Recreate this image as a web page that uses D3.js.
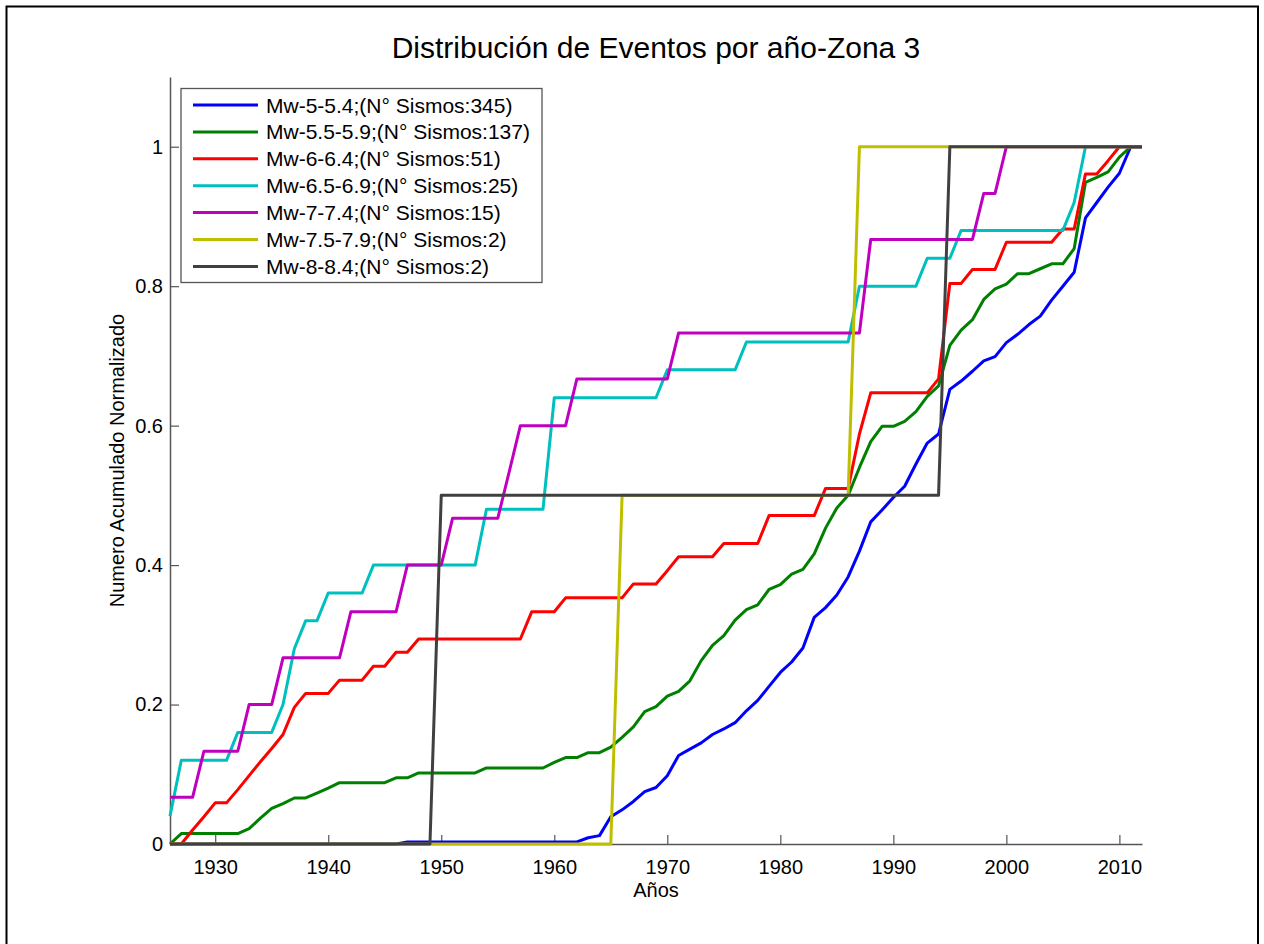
<!DOCTYPE html>
<html>
<head>
<meta charset="utf-8">
<script src="https://cdn.jsdelivr.net/npm/d3@7"></script>
<style>
html,body{margin:0;padding:0;background:#fff;}
svg{display:block;font-family:"Liberation Sans",Arial,Helvetica,sans-serif;}
</style>
</head>
<body>
<svg id="chart" width="1264" height="944"></svg>
<script>
const years = [
1926,1927,1928,1929,1930,1931,1932,1933,1934,1935,
1936,1937,1938,1939,1940,1941,1942,1943,1944,1945,
1946,1947,1948,1949,1950,1951,1952,1953,1954,1955,
1956,1957,1958,1959,1960,1961,1962,1963,1964,1965,
1966,1967,1968,1969,1970,1971,1972,1973,1974,1975,
1976,1977,1978,1979,1980,1981,1982,1983,1984,1985,
1986,1987,1988,1989,1990,1991,1992,1993,1994,1995,
1996,1997,1998,1999,2000,2001,2002,2003,2004,2005,
2006,2007,2008,2009,2010,2011,2012];

const mw50 = [
0,0,0,0,0,0,0,0,0,0,
0,0,0,0,0,0,0,0,0,0,
0,0.003,0.003,0.003,0.003,0.003,0.003,0.003,0.003,0.003,
0.003,0.003,0.003,0.003,0.003,0.003,0.003,0.009,0.012,0.039,
0.049,0.061,0.075,0.081,0.098,0.127,0.136,0.145,0.157,0.165,
0.174,0.191,0.206,0.226,0.246,0.261,0.281,0.325,0.339,0.357,
0.383,0.420,0.462,0.479,0.497,0.513,0.545,0.575,0.588,0.652,
0.664,0.678,0.693,0.699,0.719,0.731,0.745,0.757,0.780,0.800,
0.820,0.898,0.920,0.942,0.962,1,1];

const mw55 = [
0,0.015,0.015,0.015,0.015,0.015,0.015,0.022,0.037,0.051,
0.058,0.066,0.066,0.073,0.080,0.088,0.088,0.088,0.088,0.088,
0.095,0.095,0.102,0.102,0.102,0.102,0.102,0.102,0.109,0.109,
0.109,0.109,0.109,0.109,0.117,0.124,0.124,0.131,0.131,0.139,
0.153,0.168,0.190,0.197,0.212,0.219,0.234,0.263,0.285,0.299,
0.321,0.336,0.343,0.365,0.372,0.387,0.394,0.416,0.453,0.482,
0.500,0.540,0.577,0.599,0.599,0.606,0.620,0.642,0.657,0.715,
0.737,0.752,0.781,0.796,0.803,0.818,0.818,0.825,0.832,0.832,
0.854,0.949,0.956,0.964,0.985,1,1];

const mw60 = [
0,0,0.020,0.039,0.059,0.059,0.078,0.098,0.118,0.137,
0.157,0.196,0.216,0.216,0.216,0.235,0.235,0.235,0.255,0.255,
0.275,0.275,0.294,0.294,0.294,0.294,0.294,0.294,0.294,0.294,
0.294,0.294,0.333,0.333,0.333,0.353,0.353,0.353,0.353,0.353,
0.353,0.373,0.373,0.373,0.392,0.412,0.412,0.412,0.412,0.431,
0.431,0.431,0.431,0.471,0.471,0.471,0.471,0.471,0.510,0.510,
0.510,0.588,0.647,0.647,0.647,0.647,0.647,0.647,0.667,0.804,
0.804,0.824,0.824,0.824,0.863,0.863,0.863,0.863,0.863,0.882,
0.882,0.961,0.961,0.980,1,1,1];

const mw65 = [
0.04,0.12,0.12,0.12,0.12,0.12,0.16,0.16,0.16,0.16,
0.20,0.28,0.32,0.32,0.36,0.36,0.36,0.36,0.40,0.40,
0.40,0.40,0.40,0.40,0.40,0.40,0.40,0.40,0.48,0.48,
0.48,0.48,0.48,0.48,0.64,0.64,0.64,0.64,0.64,0.64,
0.64,0.64,0.64,0.64,0.68,0.68,0.68,0.68,0.68,0.68,
0.68,0.72,0.72,0.72,0.72,0.72,0.72,0.72,0.72,0.72,
0.72,0.80,0.80,0.80,0.80,0.80,0.80,0.84,0.84,0.84,
0.88,0.88,0.88,0.88,0.88,0.88,0.88,0.88,0.88,0.88,
0.92,1,1,1,1,1,1];

const mw70 = [
0.067,0.067,0.067,0.133,0.133,0.133,0.133,0.200,0.200,0.200,
0.267,0.267,0.267,0.267,0.267,0.267,0.333,0.333,0.333,0.333,
0.333,0.400,0.400,0.400,0.400,0.467,0.467,0.467,0.467,0.467,
0.533,0.600,0.600,0.600,0.600,0.600,0.667,0.667,0.667,0.667,
0.667,0.667,0.667,0.667,0.667,0.733,0.733,0.733,0.733,0.733,
0.733,0.733,0.733,0.733,0.733,0.733,0.733,0.733,0.733,0.733,
0.733,0.733,0.867,0.867,0.867,0.867,0.867,0.867,0.867,0.867,
0.867,0.867,0.933,0.933,1,1,1,1,1,1,
1,1,1,1,1,1,1];

const mw75 = [
0,0,0,0,0,0,0,0,0,0,
0,0,0,0,0,0,0,0,0,0,
0,0,0,0,0,0,0,0,0,0,
0,0,0,0,0,0,0,0,0,0,
0.5,0.5,0.5,0.5,0.5,0.5,0.5,0.5,0.5,0.5,
0.5,0.5,0.5,0.5,0.5,0.5,0.5,0.5,0.5,0.5,
0.5,1,1,1,1,1,1,1,1,1,
1,1,1,1,1,1,1,1,1,1,
1,1,1,1,1,1,1];

const mw80 = [
0,0,0,0,0,0,0,0,0,0,
0,0,0,0,0,0,0,0,0,0,
0,0,0,0,0.5,0.5,0.5,0.5,0.5,0.5,
0.5,0.5,0.5,0.5,0.5,0.5,0.5,0.5,0.5,0.5,
0.5,0.5,0.5,0.5,0.5,0.5,0.5,0.5,0.5,0.5,
0.5,0.5,0.5,0.5,0.5,0.5,0.5,0.5,0.5,0.5,
0.5,0.5,0.5,0.5,0.5,0.5,0.5,0.5,0.5,1,
1,1,1,1,1,1,1,1,1,1,
1,1,1,1,1,1,1];

const seriesNames = [
"Mw-5-5.4;(N\u00B0 Sismos:345)",
"Mw-5.5-5.9;(N\u00B0 Sismos:137)",
"Mw-6-6.4;(N\u00B0 Sismos:51)",
"Mw-6.5-6.9;(N\u00B0 Sismos:25)",
"Mw-7-7.4;(N\u00B0 Sismos:15)",
"Mw-7.5-7.9;(N\u00B0 Sismos:2)",
"Mw-8-8.4;(N\u00B0 Sismos:2)"];
const seriesColors = ["#0000ff","#008000","#ff0000","#00bfbf","#bf00bf","#bfbf00","#404040"];
const seriesValues = [mw50, mw55, mw60, mw65, mw70, mw75, mw80];

const xTicks = [1930,1940,1950,1960,1970,1980,1990,2000,2010];
const yTicks = [0,0.2,0.4,0.6,0.8,1];

const titleText = "Distribuci\u00F3n de Eventos por a\u00F1o-Zona 3";
const xLabel = "A\u00F1os";
const yLabel = "Numero Acumulado Normalizado";

const svg = d3.select("#chart");
const L = 170, R = 1142, T = 77, B = 844;

const x = d3.scaleLinear().domain([1926, 2012]).range([L, R]);
const y = d3.scaleLinear().domain([0, 1.1]).range([B, T]);

// figure border
svg.append("rect").attr("x",6.5).attr("y",6.5).attr("width",1251.5).attr("height",980)
  .attr("fill","none").attr("stroke","#000").attr("stroke-width",2);

// axes
const axColor = "#555";
const gx = svg.append("g").attr("transform",`translate(0,${B})`)
  .call(d3.axisBottom(x).tickValues(xTicks).tickFormat(d3.format("d")).tickSizeInner(-9).tickSizeOuter(0).tickPadding(16));
const gy = svg.append("g").attr("transform",`translate(${L},0)`)
  .call(d3.axisLeft(y).tickValues(yTicks).tickFormat(d => d === 0 || d === 1 ? String(d) : d.toFixed(1)).tickSizeInner(-9).tickSizeOuter(0).tickPadding(16));
[gx, gy].forEach(g => {
  g.select(".domain").attr("stroke", axColor).attr("stroke-width", 1.5);
  g.selectAll(".tick line").attr("stroke", axColor).attr("stroke-width", 1.2);
  g.selectAll(".tick text").attr("fill","#000").attr("font-size","20px")
    .attr("font-family",'"Liberation Sans",Arial,sans-serif');
});
gy.selectAll(".tick text").attr("x", -7);

// lines
const line = d3.line().x((d,i) => x(years[i])).y(d => y(d));
seriesValues.forEach((vals, k) => {
  svg.append("path").datum(vals).attr("d", line)
    .attr("fill","none").attr("stroke", seriesColors[k]).attr("stroke-width", 3)
    .attr("stroke-linejoin","round").attr("stroke-linecap","butt");
});

// title and labels
svg.append("text").attr("x",(L+R)/2).attr("y",58).attr("text-anchor","middle")
  .attr("font-size","30px").attr("fill","#000").text(titleText);
svg.append("text").attr("x",(L+R)/2).attr("y",897).attr("text-anchor","middle")
  .attr("font-size","20px").attr("fill","#000").text(xLabel);
svg.append("text").attr("transform",`translate(124,${(T+B)/2}) rotate(-90)`).attr("text-anchor","middle")
  .attr("font-size","20px").attr("fill","#000").text(yLabel);

// legend
const lg = svg.append("g");
lg.append("rect").attr("x",181).attr("y",88.5).attr("width",361).attr("height",194)
  .attr("fill","#fff").attr("stroke","#555").attr("stroke-width",1.3);
seriesNames.forEach((name, k) => {
  const yy = 105 + k*26.9;
  lg.append("line").attr("x1",193).attr("x2",258).attr("y1",yy).attr("y2",yy)
    .attr("stroke", seriesColors[k]).attr("stroke-width",3);
  lg.append("text").attr("x",266).attr("y",yy).attr("dy","0.36em")
    .attr("font-size","21px").attr("fill","#000").text(name);
});
</script>
</body>
</html>
